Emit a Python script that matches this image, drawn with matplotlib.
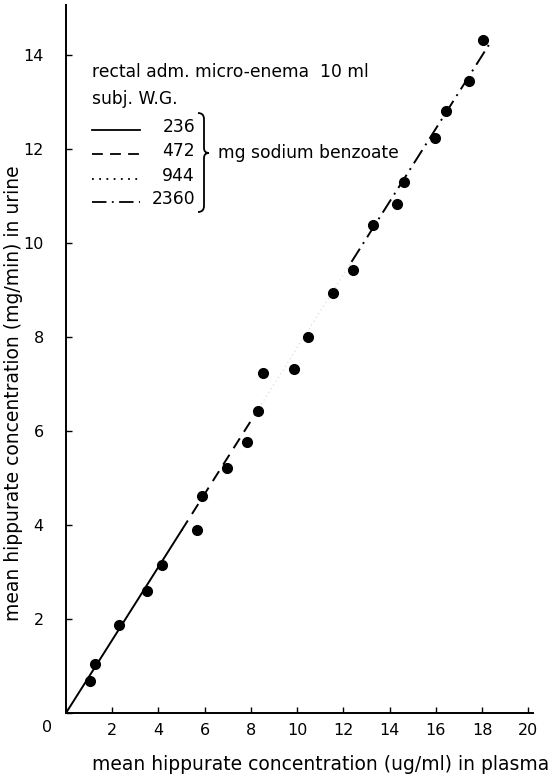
import numpy as np
import matplotlib
matplotlib.use("Agg")
from matplotlib import pyplot as plt
from matplotlib.path import Path
from matplotlib.patches import PathPatch
from matplotlib.lines import Line2D

# mean hippurate concentration: plasma (ug/ml) vs urine (mg/min)
plasma = [1.02, 1.24, 2.29, 3.49, 4.17, 5.67, 5.87, 6.98, 7.84, 8.30, 8.50,
          9.86, 10.45, 11.54, 12.40, 13.29, 14.33, 14.62, 15.96, 16.42, 17.42, 18.04]
urine = [0.68, 1.05, 1.87, 2.59, 3.15, 3.89, 4.62, 5.21, 5.77, 6.43, 7.23,
         7.32, 7.99, 8.94, 9.42, 10.37, 10.83, 11.29, 12.23, 12.81, 13.45, 14.31]

slope = 0.777                            # regression line through origin
seg_breaks = [0, 5.0, 8.35, 12.35, 18.3]  # x where line style changes
doses = ["236", "472", "944", "2360"]     # mg sodium benzoate
xticks = list(range(0, 21, 2))
yticks = list(range(0, 15, 2))

styles = ['-', (0, (6, 4)), (0, (1, 3)), (0, (8, 3, 1, 3))]

W, H = 556, 777
def fx(px):
    return px / W
def fy(py):
    return 1 - py / H

plt.rcParams['font.family'] = ['DejaVu Sans']
fig = plt.figure(figsize=(W / 100, H / 100), dpi=100)
ax = fig.add_axes([fx(66), fy(713), fx(533) - fx(66), fy(5) - fy(713)])
ax.set_xlim(0, 20.2)
ax.set_ylim(0, 15.06)

for s in ['top', 'right']:
    ax.spines[s].set_visible(False)
for s in ['left', 'bottom']:
    ax.spines[s].set_linewidth(1.4)

ax.set_xticks(xticks)
ax.set_xticklabels([''] + [str(t) for t in xticks[1:]], fontsize=11.5)
ax.set_yticks(yticks)
ax.set_yticklabels([''] + [str(t) for t in yticks[1:]], fontsize=11.5)
ax.tick_params(axis='x', direction='in', length=4, width=1, pad=7)
ax.tick_params(axis='y', direction='in', length=4, width=1, pad=16)
fig.text(fx(47), fy(728), "0", fontsize=11.5, ha='center', va='center')

# line in four style segments
for i in range(4):
    xs = np.array([seg_breaks[i], seg_breaks[i + 1]])
    col = 'black' if i != 2 else '#d5d5d5'
    lw = 1.4 if i != 2 else 0.8
    ax.plot(xs, slope * xs, color=col, lw=lw, linestyle=styles[i])

ax.plot(plasma, urine, 'o', color='black', markersize=7, zorder=5)

# labels
fig.text(fx(14), fy(393), "mean hippurate concentration (mg/min) in urine",
         rotation=90, fontsize=13.5, ha='center', va='center')
fig.text(fx(321), fy(765), "mean hippurate concentration (ug/ml) in plasma",
         fontsize=13.5, ha='center', va='center')

# legend block
fig.text(fx(92), fy(72), "rectal adm. micro-enema  10 ml", fontsize=12.3, va='center')
fig.text(fx(92), fy(99), "subj. W.G.", fontsize=12.3, va='center')
rows = [127, 151, 176, 199]
for i, d in enumerate(doses):
    fig.add_artist(Line2D([fx(92), fx(140)], [fy(rows[i] + 3), fy(rows[i] + 3)],
                          color='black', lw=1.3, linestyle=styles[i]))
    fig.text(fx(195), fy(rows[i]), d, fontsize=12.3, ha='right', va='center')

# brace
bx, top, bot, tip = 198, 113, 212, 153
verts = [(bx, top), (bx + 6, top), (bx + 6, top + 6),
         (bx + 6, tip - 5), (bx + 6, tip), (bx + 11, tip),
         (bx + 6, tip), (bx + 6, tip + 5),
         (bx + 6, bot - 6), (bx + 6, bot), (bx, bot)]
codes = [Path.MOVETO, Path.CURVE3, Path.CURVE3,
         Path.LINETO, Path.CURVE3, Path.CURVE3,
         Path.CURVE3, Path.CURVE3,
         Path.LINETO, Path.CURVE3, Path.CURVE3]
verts = [(fx(x), fy(y)) for x, y in verts]
fig.add_artist(PathPatch(Path(verts, codes), fill=False, lw=1.3,
                         transform=fig.transFigure))
fig.text(fx(218), fy(153), "mg sodium benzoate", fontsize=12.3, va='center')

fig.savefig("out.png", dpi=100)
